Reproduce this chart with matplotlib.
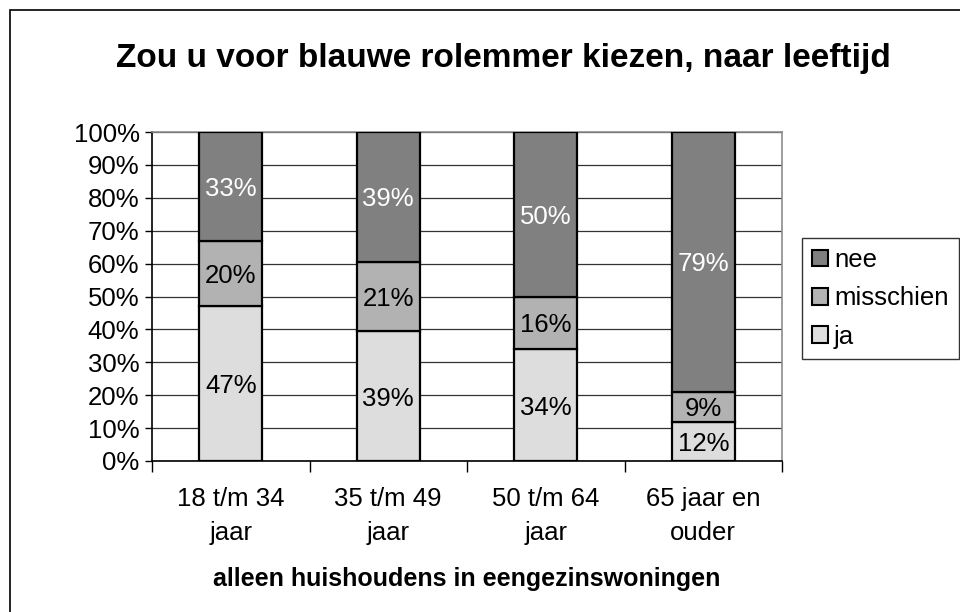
import matplotlib.pyplot as plt
import numpy as np
from matplotlib.patches import Rectangle, Patch

plt.rcParams['font.family'] = ['Liberation Sans', 'DejaVu Sans']

# data (percentages)
categories = ['18 t/m 34\njaar', '35 t/m 49\njaar', '50 t/m 64\njaar', '65 jaar en\nouder']
ja = [47, 39.4, 34, 12]
misschien = [20, 21.2, 16, 9]
nee = [33, 39.4, 50, 79]

series = [('ja', ja, '#dddddd', 'black'),
          ('misschien', misschien, '#b2b2b2', 'black'),
          ('nee', nee, '#808080', 'white')]

fig = plt.figure(figsize=(9.6, 6.12), dpi=100)
ax = fig.add_axes([152 / 960, 1 - 461 / 612, 630 / 960, 329 / 612])

# outer frame (only left/top visible in the original)
fig.patches.append(Rectangle((10 / 960, -0.1), 1.2, 1 - 10 / 612 + 0.1,
                             transform=fig.transFigure, fill=False,
                             edgecolor='black', linewidth=1.2, zorder=0))

x = np.arange(len(categories))
bottom = np.zeros(len(categories))
handles = {}
for name, vals, col, tcol in series:
    vals = np.array(vals, dtype=float)
    ax.bar(x, vals, width=0.4, bottom=bottom, color=col,
           edgecolor='black', linewidth=1.6, zorder=3, label=name)
    for xi, b, v in zip(x, bottom, vals):
        ax.text(xi, b + v / 2, f'{round(v)}%', ha='center', va='center_baseline',
                fontsize=18.5, color=tcol, zorder=4)
    handles[name] = col
    bottom += vals

ax.set_xlim(-0.5, len(categories) - 0.5)
ax.set_ylim(0, 100)
ax.set_yticks(range(0, 101, 10))
ax.set_yticklabels([f'{v}%' for v in range(0, 101, 10)], fontsize=18.5)
ax.yaxis.grid(True, color='#333333', linewidth=0.9, zorder=0)
ax.set_axisbelow(True)

# category boundaries as ticks, labels centered under bars
ax.set_xticks(np.arange(-0.5, len(categories), 1.0))
ax.set_xticklabels([])
ax.set_xticks(x, minor=True)
ax.set_xticklabels(categories, minor=True, fontsize=18.5, linespacing=1.5)
ax.tick_params(axis='x', which='minor', length=0, pad=19)
ax.tick_params(axis='x', which='major', length=8, width=1, direction='out')
ax.tick_params(axis='y', length=5, width=1, direction='out', pad=4)

for s in ['left', 'bottom']:
    ax.spines[s].set_color('black')
    ax.spines[s].set_linewidth(1.2)
for s in ['right', 'top']:
    ax.spines[s].set_color('#8c8c8c')
    ax.spines[s].set_linewidth(1.2)

ax.set_xlabel('alleen huishoudens in eengezinswoningen', fontsize=18,
              fontweight='bold', labelpad=16)

fig.text(503 / 960, 1 - 58 / 612, 'Zou u voor blauwe rolemmer kiezen, naar leeftijd',
         ha='center', va='center', fontsize=24, fontweight='bold')

leg_handles = [Patch(facecolor=handles[n], edgecolor='black', linewidth=1.5)
               for n in ['nee', 'misschien', 'ja']]
leg = fig.legend(leg_handles, ['nee', 'misschien', 'ja'],
                 loc='upper left', bbox_to_anchor=(802 / 960, 1 - 238 / 612),
                 fontsize=18.5, frameon=True, fancybox=False, handlelength=0.6,
                 handleheight=0.6, handletextpad=0.25, labelspacing=0.55,
                 borderpad=0.4, borderaxespad=0)
leg.get_frame().set_edgecolor('black')
leg.get_frame().set_linewidth(1.0)

fig.savefig('out.png', dpi=100)
